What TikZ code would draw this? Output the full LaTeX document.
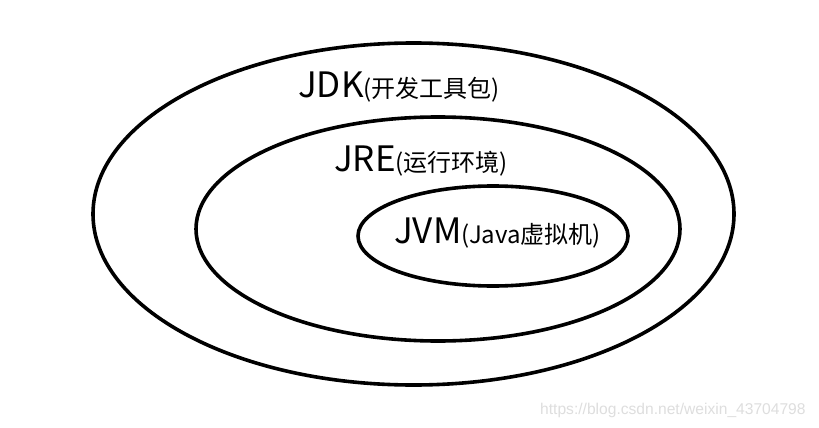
\documentclass[tikz,border=0pt]{standalone}
\usepackage{fontspec}
\usetikzlibrary{shapes.geometric}
\setmainfont{Noto Sans CJK SC}
\newfontfamily\wmfont{Liberation Sans}
\newcommand{\bigpart}[1]{{\fontsize{35}{38}\selectfont #1}}
\newcommand{\smallpart}[1]{{\fontsize{24}{26}\selectfont #1}}
\begin{document}
\begin{tikzpicture}[x=1pt,y=-1pt,
  ring/.style={draw=black,line width=3.6pt,ellipse,inner sep=0pt,outer sep=0pt},
  lbl/.style={inner sep=0pt,anchor=base west,text=black},
]
\useasboundingbox[fill=white] (0,0) rectangle (819,428);
\node[ring,minimum width=641pt,minimum height=342pt] (jdk) at (413.5,214) {};
\node[ring,minimum width=484pt,minimum height=224pt] (jre) at (438,229) {};
\node[ring,minimum width=270pt,minimum height=100pt] (jvm) at (493,236) {};
\node[lbl] (tjdk) at (298,97) {\bigpart{JDK}\smallpart{(开发工具包)}};
\node[lbl] (tjre) at (334,171) {\bigpart{JRE}\smallpart{(运行环境)}};
\node[lbl] (tjvm) at (394,243) {\bigpart{JVM}\smallpart{(Java虚拟机)}};
\node[inner sep=0pt,anchor=west,text=black!13] (wm) at (540,410) {\wmfont\fontsize{15.6}{17}\selectfont https://blog.csdn.net/weixin\_43704798};
\end{tikzpicture}
\end{document}
